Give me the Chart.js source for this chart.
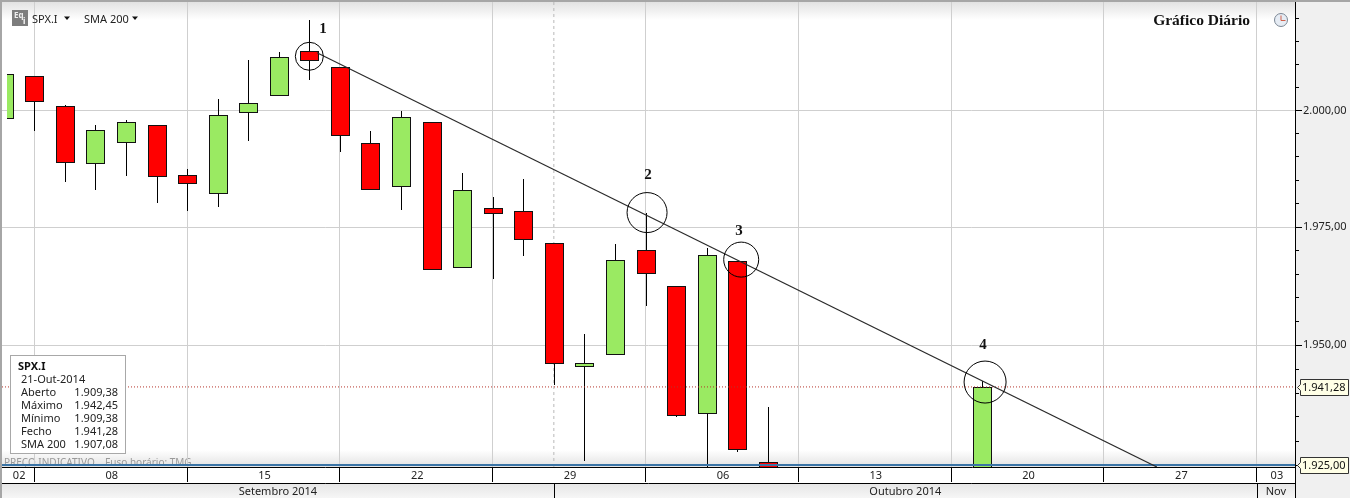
<!DOCTYPE html>
<html>
<head>
<meta charset="utf-8">
<title>SPX.I</title>
<style>
  html, body { margin: 0; padding: 0; background: #f0f0f0; }
  canvas { display: block; }
</style>
<script src="https://cdn.jsdelivr.net/npm/chart.js@4"></script>
</head>
<body>
<canvas id="chart" width="1350" height="498"></canvas>
<script>
// trading days, the x scale runs on their index
const categories = ['05-09',
  '08-09','09-09','10-09','11-09','12-09',
  '15-09','16-09','17-09','18-09','19-09',
  '22-09','23-09','24-09','25-09','26-09',
  '29-09','30-09','01-10','02-10','03-10',
  '06-10','07-10','08-10','09-10','10-10',
  '13-10','14-10','15-10','16-10','17-10',
  '20-10','21-10','22-10','23-10','24-10',
  '27-10','28-10','29-10','30-10','31-10',
  '03-11'];

// candles that fall under the axis floor are left null
const opens  = [1998.1,2007.4,2001.0,1988.4,1992.9,1996.8,1986.1,1982.0,1999.4,2003.2,2012.8,2009.3,1992.9,1983.5,1997.5,1966.4,1979.1,1978.5,1971.7,1945.4,1948.0,1970.2,1962.6,1935.6,1967.7,1925.6,null,null,null,null,null,null,1909.38];
const highs  = [2007.9,2007.4,2001.1,1996.8,1998.0,1996.8,1987.5,2002.5,2010.9,2012.7,2019.6,2009.3,1995.6,1999.9,1997.5,1986.6,1981.5,1985.3,1971.7,1952.4,1971.4,1978.0,1962.6,1970.6,1967.7,1937.1,null,null,null,null,null,null,1942.45];
const lows   = [1998.1,1995.6,1984.7,1983.0,1986.0,1980.2,1978.5,1979.3,1993.4,2003.2,2006.6,1991.1,1982.9,1978.7,1965.9,1966.4,1964.0,1968.9,1941.7,1925.8,1948.0,1958.3,1935.0,1924.0,1927.7,1923.0,null,null,null,null,null,null,1909.38];
const closes = [2007.9,2001.8,1988.6,1995.7,1997.6,1985.6,1984.2,1999.1,2001.7,2011.5,2010.6,1994.4,1982.9,1998.5,1965.9,1983.0,1977.8,1972.3,1946.1,1946.2,1968.1,1965.0,1935.2,1969.1,1928.2,1923.0,null,null,null,null,null,null,1941.28];

const yTicks = [1925,1930,1935,1940,1945,1950,1955,1960,1965,1970,1975,1980,1985,1990,1995,2000,2005,2010,2015,2020];
const yLabels = { 2000: '2.000,00', 1975: '1.975,00', 1950: '1.950,00', 1925: '1.925,00' };

const weekStarts = ['08-09','15-09','22-09','29-09','06-10','13-10','20-10','27-10','03-11'];
const weekLabels = ['02','08','15','22','29','06','13','20','27','03'];
const monthStarts = ['01-10','03-11'];
const monthLabels = ['Setembro 2014','Outubro 2014','Nov'];

const lastPrice = 1941.28;
const floorPrice = 1925;
const trendX = [10.25, 37.73];
const trendY = [2012.45, 1924.6];
const circleX = [10.0, 21.05, 24.13, 32.11];
const circleY = [2011.7, 1978.1, 1968.1, 1942.3];
const circleR = [14, 20, 17.5, 21];
const noteX = [10.45, 21.08, 24.06, 32.04];
const noteY = [2017.6, 1986.2, 1974.2, 1950.1];
const noteText = ['1', '2', '3', '4'];

const infoTitle = 'SPX.I';
const infoDate = '21-Out-2014';
const infoNames = ['Aberto', 'Máximo', 'Mínimo', 'Fecho', 'SMA 200'];
const infoValues = ['1.909,38', '1.942,45', '1.909,38', '1.941,28', '1.907,08'];

const UI_FONT = '"Noto Sans", sans-serif';
const xMin = -0.0556, xMax = 42.25;
const yMin = 1924.6, yMax = 2023.5;

function candles() {
  return opens.map((o, i) => ({ x: i, y: o === null ? null : [o, closes[i]] }));
}
function wicks() {
  return highs.map((h, i) => ({ x: i, y: h === null ? null : [lows[i], h] }));
}

function text(ctx, str, x, y, font, color, align) {
  ctx.font = font;
  ctx.fillStyle = color;
  ctx.textAlign = align || 'left';
  ctx.textBaseline = 'middle';
  ctx.fillText(str, x, y);
}

function priceTag(ctx, y, label) {
  y = Math.round(y) + 0.5;
  ctx.fillStyle = '#ffffe6';
  ctx.strokeStyle = '#333';
  ctx.beginPath();
  ctx.moveTo(1300.5, y - 8);
  ctx.lineTo(1348.5, y - 8);
  ctx.lineTo(1348.5, y + 8);
  ctx.lineTo(1300.5, y + 8);
  ctx.lineTo(1300.5, y + 3);
  ctx.lineTo(1297.5, y);
  ctx.lineTo(1300.5, y - 3);
  ctx.closePath();
  ctx.fill();
  ctx.stroke();
  text(ctx, label, 1302, y, '11px ' + UI_FONT, '#111');
}

// snap candles to whole pixels so wicks stay one pixel wide
const snapBars = {
  id: 'snapBars',
  afterDatasetsUpdate(chart) {
    [0, 1].forEach(d => {
      chart.getDatasetMeta(d).data.forEach(el => {
        if (el.skip || !Number.isFinite(el.x)) return;
        el.x = Math.round(el.x) + 0.5;
        el.y = Math.round(el.y);
        el.base = Math.round(el.base);
        el.height = el.base - el.y;
      });
    });
  }
};

// panels and fades behind the scales
const backdrop = {
  id: 'backdrop',
  beforeDraw(chart) {
    const ctx = chart.ctx, a = chart.chartArea;
    ctx.save();
    ctx.fillStyle = '#f0f0f0';
    ctx.fillRect(0, 0, 1350, 498);
    ctx.fillStyle = '#fff';
    ctx.fillRect(a.left, a.top, a.right - a.left, a.bottom - a.top);

    let g = ctx.createLinearGradient(0, a.top, 0, 20);
    g.addColorStop(0, '#e2e2e2');
    g.addColorStop(1, '#ffffff');
    ctx.fillStyle = g;
    ctx.fillRect(a.left, a.top, a.right - a.left, 18);

    g = ctx.createLinearGradient(0, 450, 0, 466);
    g.addColorStop(0, '#ffffff');
    g.addColorStop(1, '#e4e4e4');
    ctx.fillStyle = g;
    ctx.fillRect(a.left, 450, a.right - a.left, 17);

    // week row and month row
    ctx.fillStyle = '#fff';
    ctx.fillRect(a.left, 468, a.right - a.left, 15);
    g = ctx.createLinearGradient(0, 484, 0, 498);
    g.addColorStop(0, '#e6e6e6');
    g.addColorStop(1, '#f6f6f6');
    ctx.fillStyle = g;
    ctx.fillRect(a.left, 484, a.right - a.left, 14);

    // window edge
    ctx.fillStyle = '#a6a6a6';
    ctx.fillRect(0, 0, 1350, 2);
    ctx.fillRect(0, 0, 2, 498);

    // footer caption, its lower half goes under the blue line
    ctx.beginPath();
    ctx.rect(a.left, 440, 400, 27);
    ctx.clip();
    text(ctx, 'PREÇO INDICATIVO    Fuso horário: TMG', 4, 463, '10px ' + UI_FONT, '#9a9a9a');
    ctx.restore();
  }
};

// texts, tags and axis rows on top of the marks
const overlay = {
  id: 'overlay',
  afterDraw(chart) {
    const ctx = chart.ctx, a = chart.chartArea;
    const sx = chart.scales.x, sy = chart.scales.y;
    const px = d => sx.getPixelForValue(categories.indexOf(d));
    ctx.save();

    // longer marks on the labelled prices
    ctx.strokeStyle = '#000';
    Object.keys(yLabels).forEach(v => {
      const y = Math.round(sy.getPixelForValue(+v)) + 0.5;
      ctx.beginPath();
      ctx.moveTo(a.right + 4, y);
      ctx.lineTo(a.right + 7, y);
      ctx.stroke();
    });

    // axis rows
    ctx.beginPath();
    ctx.moveTo(a.left, 483.5);
    ctx.lineTo(a.right, 483.5);
    ctx.moveTo(a.right + 0.5, a.bottom);
    ctx.lineTo(a.right + 0.5, 498);
    monthStarts.forEach(d => {
      const x = Math.round(px(d)) + 0.5;
      ctx.moveTo(x, 484);
      ctx.lineTo(x, 498);
    });
    ctx.stroke();

    const weekEdges = [a.left].concat(weekStarts.map(px), [a.right]);
    weekLabels.forEach((t, i) => {
      text(ctx, t, (weekEdges[i] + weekEdges[i + 1]) / 2 + 1, 476, '11px ' + UI_FONT, '#222', 'center');
    });
    const monthEdges = [a.left].concat(monthStarts.map(px), [a.right]);
    monthLabels.forEach((t, i) => {
      text(ctx, t, (monthEdges[i] + monthEdges[i + 1]) / 2, 491.5, '11px ' + UI_FONT, '#222', 'center');
    });

    priceTag(ctx, sy.getPixelForValue(lastPrice), '1.941,28');
    priceTag(ctx, sy.getPixelForValue(floorPrice), '1.925,00');

    noteText.forEach((t, i) => {
      text(ctx, t, sx.getPixelForValue(noteX[i]), sy.getPixelForValue(noteY[i]), 'bold 15px "Liberation Serif", serif', '#111', 'center');
    });

    text(ctx, 'Gráfico Diário', 1250, 21, 'bold 15.5px "Liberation Serif", serif', '#111', 'right');

    // clock button
    ctx.beginPath();
    ctx.arc(1281, 20, 6.5, 0, Math.PI * 2);
    ctx.fillStyle = '#e6ecf4';
    ctx.fill();
    ctx.strokeStyle = '#7b8794';
    ctx.stroke();
    ctx.strokeStyle = '#d0604a';
    ctx.beginPath();
    ctx.moveTo(1281, 15.5);
    ctx.lineTo(1281, 20.5);
    ctx.lineTo(1285.5, 20.5);
    ctx.stroke();

    // symbol button and menus
    ctx.fillStyle = '#7d7d7d';
    ctx.fillRect(12, 10, 16, 16);
    text(ctx, 'Eq', 14, 16, 'bold 8px ' + UI_FONT, '#eee');
    text(ctx, 'i', 23, 22, 'bold 8px ' + UI_FONT, '#fff');
    text(ctx, 'SPX.I', 32, 19.5, '11px ' + UI_FONT, '#222');
    text(ctx, 'SMA 200', 84, 19.5, '11px ' + UI_FONT, '#222');
    ctx.fillStyle = '#111';
    [64, 132].forEach(x => {
      ctx.beginPath();
      ctx.moveTo(x, 16.5);
      ctx.lineTo(x + 6, 16.5);
      ctx.lineTo(x + 3, 20);
      ctx.closePath();
      ctx.fill();
    });

    // value box
    ctx.fillStyle = '#fff';
    ctx.fillRect(10.5, 355.5, 115, 98);
    ctx.strokeStyle = '#a8a8a8';
    ctx.strokeRect(10.5, 355.5, 115, 98);
    text(ctx, infoTitle, 18, 367, 'bold 11px ' + UI_FONT, '#111');
    text(ctx, infoDate, 21, 380, '11px ' + UI_FONT, '#222');
    infoNames.forEach((n, i) => {
      const y = 393 + i * 13;
      text(ctx, n, 21, y, '11px ' + UI_FONT, '#222');
      text(ctx, infoValues[i], 118, y, '11px ' + UI_FONT, '#222', 'right');
    });
    ctx.restore();
  }
};

new Chart(document.getElementById('chart'), {
  type: 'bar',
  data: {
    datasets: [
      {
        label: 'Sombras',
        data: wicks(),
        backgroundColor: '#000',
        barThickness: 1,
        inflateAmount: 0,
        grouped: false,
        clip: { left: -5, top: 0, right: 0, bottom: 0 },
        order: 6
      },
      {
        label: 'SPX.I',
        data: candles(),
        backgroundColor: ctx => (closes[ctx.dataIndex] >= opens[ctx.dataIndex] ? '#9aea62' : '#ff0000'),
        borderColor: '#111',
        borderWidth: 1,
        borderSkipped: false,
        barThickness: 19,
        inflateAmount: 0,
        grouped: false,
        clip: { left: -5, top: 0, right: 0, bottom: 0 },
        order: 5
      },
      {
        type: 'line',
        label: 'Fecho',
        data: [{ x: xMin, y: lastPrice }, { x: xMax, y: lastPrice }],
        borderColor: '#b5342c',
        borderWidth: 1,
        borderDash: [1, 2],
        pointRadius: 0,
        order: 4
      },
      {
        type: 'line',
        label: 'Mês',
        data: [{ x: categories.indexOf('01-10'), y: yMin }, { x: categories.indexOf('01-10'), y: yMax }],
        borderColor: '#b8b8b8',
        borderWidth: 1,
        borderDash: [3, 3],
        pointRadius: 0,
        order: 7
      },
      {
        type: 'line',
        label: 'Base',
        data: [{ x: xMin, y: floorPrice }, { x: xMax, y: floorPrice }],
        borderColor: '#3a74a6',
        borderWidth: 2,
        pointRadius: 0,
        order: 3
      },
      {
        type: 'line',
        label: 'Tendência',
        data: trendX.map((x, i) => ({ x: x, y: trendY[i] })),
        borderColor: '#2b2b2b',
        borderWidth: 1.2,
        pointRadius: 0,
        order: 2
      },
      {
        type: 'line',
        label: 'Toques',
        data: circleX.map((x, i) => ({ x: x, y: circleY[i] })),
        showLine: false,
        pointRadius: circleR,
        pointBackgroundColor: 'rgba(0,0,0,0)',
        pointBorderColor: '#000',
        pointBorderWidth: 1,
        order: 1
      }
    ]
  },
  options: {
    responsive: false,
    animation: false,
    layout: { autoPadding: false, padding: { left: 2, top: 2 } },
    plugins: { legend: { display: false }, tooltip: { enabled: false } },
    scales: {
      x: {
        type: 'linear',
        position: 'bottom',
        offset: false,
        min: xMin,
        max: xMax,
        afterBuildTicks: s => { s.ticks = weekStarts.map(d => ({ value: categories.indexOf(d) })); },
        afterFit: s => { s.height = 31; s.paddingLeft = 0; s.paddingRight = 0; },
        ticks: { display: false },
        grid: { offset: false, color: '#cfcfcf', tickColor: '#000', tickLength: 15 },
        border: { color: '#000' }
      },
      y: {
        type: 'logarithmic',
        position: 'right',
        beginAtZero: false,
        min: yMin,
        max: yMax,
        afterBuildTicks: s => { s.ticks = yTicks.map(v => ({ value: v })); },
        afterFit: s => { s.width = 55; s.paddingTop = 0; s.paddingBottom = 0; },
        ticks: {
          autoSkip: false,
          maxRotation: 0,
          padding: 4,
          color: '#222',
          font: { family: '"Noto Sans", sans-serif', size: 11 },
          callback: v => yLabels[v] || ''
        },
        grid: {
          color: ctx => (yLabels[ctx.tick.value] ? '#cfcfcf' : 'rgba(0,0,0,0)'),
          tickColor: '#000',
          tickLength: 4
        },
        border: { color: '#000' }
      }
    }
  },
  plugins: [snapBars, backdrop, overlay]
});
</script>
</body>
</html>
